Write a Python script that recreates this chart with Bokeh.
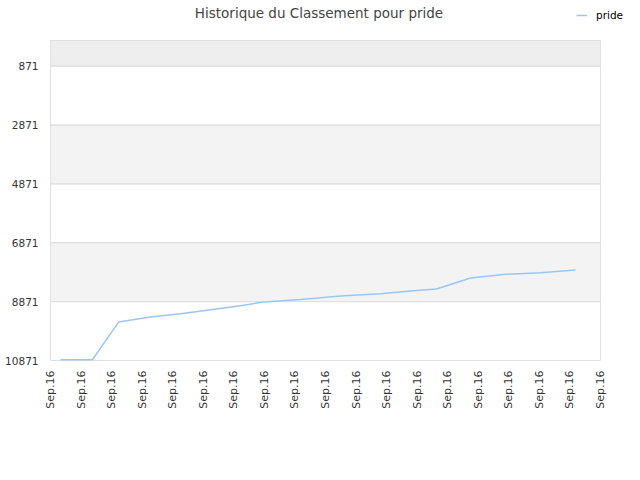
import math
from bokeh.plotting import figure
from bokeh.models import Range1d, FixedTicker, BoxAnnotation, Legend, LegendItem, Label
from bokeh.embed import file_html
from bokeh.resources import INLINE

# data (x in positions along the date axis, y = rank)
days = [0.33, 1.37, 2.23, 3.27, 4.26, 5.24, 6.22, 6.97, 8.18, 9.49,
        10.80, 11.78, 12.63, 13.75, 14.89, 16.04, 17.18]
ranks = [10846, 10846, 9567, 9397, 9281, 9145, 9009, 8887, 8795, 8683,
         8601, 8513, 8445, 8071, 7945, 7887, 7798]
y_ticks = [871, 2871, 4871, 6871, 8871, 10871]
x_ticks = list(range(19))
x_labels = ["Sep.16"] * 19
series_name = "pride"
title_text = "Historique du Classement pour pride"

FONT = "DejaVu Sans"

x_min, x_max = 0, 18
y_top, y_bottom = 0, 10871
px_x = (x_max - x_min) / 550.0     # data units per pixel (x)
px_y = (y_bottom - y_top) / 320.0  # data units per pixel (y)

# frame extends to the canvas top and right so the title/legend are not clipped,
# and one pixel past the plot border on the left and bottom
p = figure(width=624, height=464, output_backend="svg", toolbar_location=None,
           x_range=Range1d(x_min - 1 * px_x, x_max + 24 * px_x),
           y_range=Range1d(y_bottom + 1 * px_y, y_bottom - 360 * px_y),
           min_border_left=49, min_border_right=0, min_border_top=0,
           min_border_bottom=103, background_fill_color="white",
           border_fill_color="white")
p.outline_line_color = None
p.grid.visible = False

# background bands
edges = [y_top] + y_ticks
fills = ["#eeeeee"] + ["#ffffff" if i % 2 == 0 else "#f3f3f3" for i in range(len(y_ticks) - 1)]
for i in range(len(edges) - 1):
    p.add_layout(BoxAnnotation(left=x_min, right=x_max, top=edges[i], bottom=edges[i + 1],
                               fill_color=fills[i], fill_alpha=1, line_alpha=0,
                               level="underlay"))
# grid lines and plot border
for i in range(len(edges) - 1):
    p.add_layout(BoxAnnotation(left=x_min, right=x_max, top=edges[i], bottom=edges[i + 1],
                               fill_alpha=0, line_color="#e0e0e0", line_alpha=1,
                               line_width=1, level="underlay"))

r = p.line(days, ranks, line_color="#99c7f4", line_width=1.5)

p.yaxis.ticker = FixedTicker(ticks=y_ticks)
p.yaxis.axis_line_color = None
p.yaxis.major_tick_line_color = None
p.yaxis.minor_tick_line_color = None
p.yaxis.major_tick_out = 0
p.yaxis.major_label_standoff = 11
p.yaxis.major_label_text_font = FONT
p.yaxis.major_label_text_font_size = "10.5px"
p.yaxis.major_label_text_color = "#333333"

p.xaxis.ticker = FixedTicker(ticks=x_ticks)
p.xaxis.major_label_overrides = {t: l for t, l in zip(x_ticks, x_labels)}
p.xaxis.major_label_orientation = math.pi / 2
p.xaxis.axis_line_color = None
p.xaxis.major_tick_line_color = None
p.xaxis.minor_tick_line_color = None
p.xaxis.major_tick_out = 0
p.xaxis.major_label_standoff = 9
p.xaxis.major_label_text_font = FONT
p.xaxis.major_label_text_font_size = "11px"
p.xaxis.major_label_text_color = "#333333"

# frame-relative screen coordinates (frame left = 49, frame bottom = 361)
title = Label(x=269.5, y=349, x_units="screen", y_units="screen", text=title_text,
              text_align="center", text_baseline="middle", text_font=FONT,
              text_font_size="13.5px", text_color="#444444")
p.add_layout(title)

legend = Legend(items=[LegendItem(label=series_name, renderers=[r])],
                location=(527, 339), orientation="horizontal",
                padding=0, margin=0, spacing=0, border_line_alpha=0,
                background_fill_alpha=0, glyph_width=11, glyph_height=14,
                label_height=14, label_standoff=9,
                label_text_font=FONT, label_text_font_size="10.5px",
                label_text_color="#000000")
p.add_layout(legend, "center")

open("out.html", "w").write(file_html(p, INLINE))
